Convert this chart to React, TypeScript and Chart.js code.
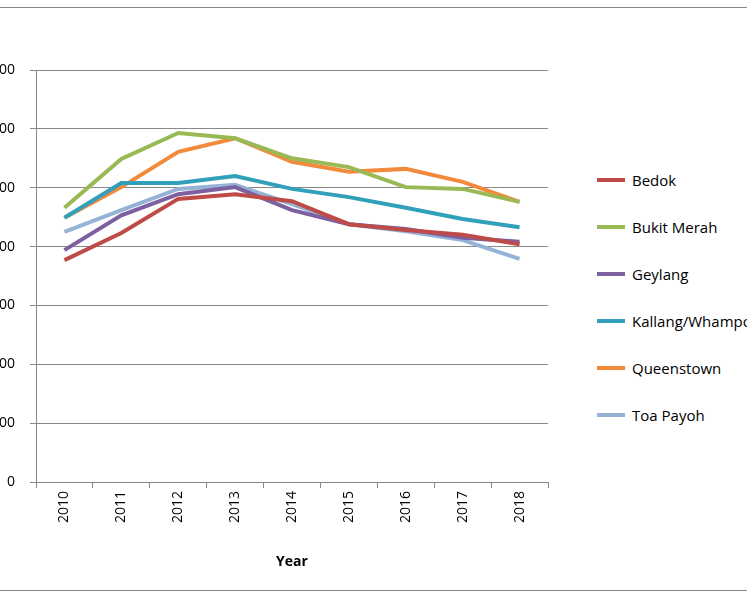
import React, { useEffect, useRef } from "react";
import { Chart, registerables } from "chart.js";
Chart.register(...registerables);

const years = ["2010","2011","2012","2013","2014","2015","2016","2017","2018"];
const bedok = [377,423,481,489,477,438,428,420,404];
const bukitMerah = [466,549,593,584,550,535,501,498,476];
const geylang = [394,453,489,501,462,438,430,415,408];
const kallang = [449,508,508,520,498,484,466,447,433];
const queenstown = [449,501,561,584,544,527,532,510,476];
const toaPayoh = [425,462,498,505,472,438,426,411,379];
const names = ["Bedok","Bukit Merah","Geylang","Kallang/Whampoa","Queenstown","Toa Payoh"];
const colors = ["#BE4B48","#98B954","#7D60A0","#31A0BA","#F28A3C","#95B3D7"];
const series = [bedok, bukitMerah, geylang, kallang, queenstown, toaPayoh];

export default function App() {
  const ref = useRef<HTMLCanvasElement>(null);
  useEffect(() => {
    const chart = new Chart(ref.current!, {
      type: "line",
      data: {
        labels: years,
        datasets: series.map((d, i) => ({
          label: names[i], data: d, borderColor: colors[i], backgroundColor: colors[i],
          borderWidth: 4, pointRadius: 0, tension: 0,
        })),
      },
      options: {
        animation: false, responsive: false,
        layout: { padding: { top: 70, right: 32, left: 0, bottom: 0 } },
        plugins: { legend: { display: false }, tooltip: { enabled: false } },
        scales: {
          x: {
            offset: true,
            grid: { display: true, drawOnChartArea: false, color: "#888", tickLength: 6, offset: true },
            border: { color: "#888" },
            ticks: { color: "#000", maxRotation: 90, minRotation: 90, font: { family: "Open Sans", size: 14 } },
            title: { display: true, text: "Year", color: "#000", padding: { top: 0, bottom: 20 }, font: { family: "Open Sans", size: 14, weight: "bold" } },
            afterFit: (s: any) => { s.height = 108; },
          },
          y: {
            min: 0, max: 700,
            ticks: { stepSize: 100, color: "#000", padding: 15, font: { family: "Open Sans", size: 14 } },
            grid: { color: "#888", tickLength: 6 },
            border: { color: "#888" },
            afterFit: (s: any) => { s.width = 56; },
          },
        },
      },
    });
    return () => chart.destroy();
  }, []);
  return (
    <div style={{ position: "absolute", left: 0, top: 0, width: 747, height: 598, overflow: "hidden", background: "#fff" }}>
      <div style={{ position: "absolute", left: -10, top: 7, width: 770, height: 582, border: "1px solid #888" }} />
      <canvas ref={ref} width={600} height={590} style={{ position: "absolute", left: -20, top: 0 }} />
      {names.map((n, i) => (
        <div key={n} style={{ position: "absolute", left: 597, top: 170 + i * 47, display: "flex", alignItems: "center", whiteSpace: "nowrap", fontFamily: "Open Sans", fontSize: 15, color: "#000" }}>
          <span style={{ display: "inline-block", width: 28, height: 4, background: colors[i], marginRight: 7 }} />
          {n}
        </div>
      ))}
    </div>
  );
}
